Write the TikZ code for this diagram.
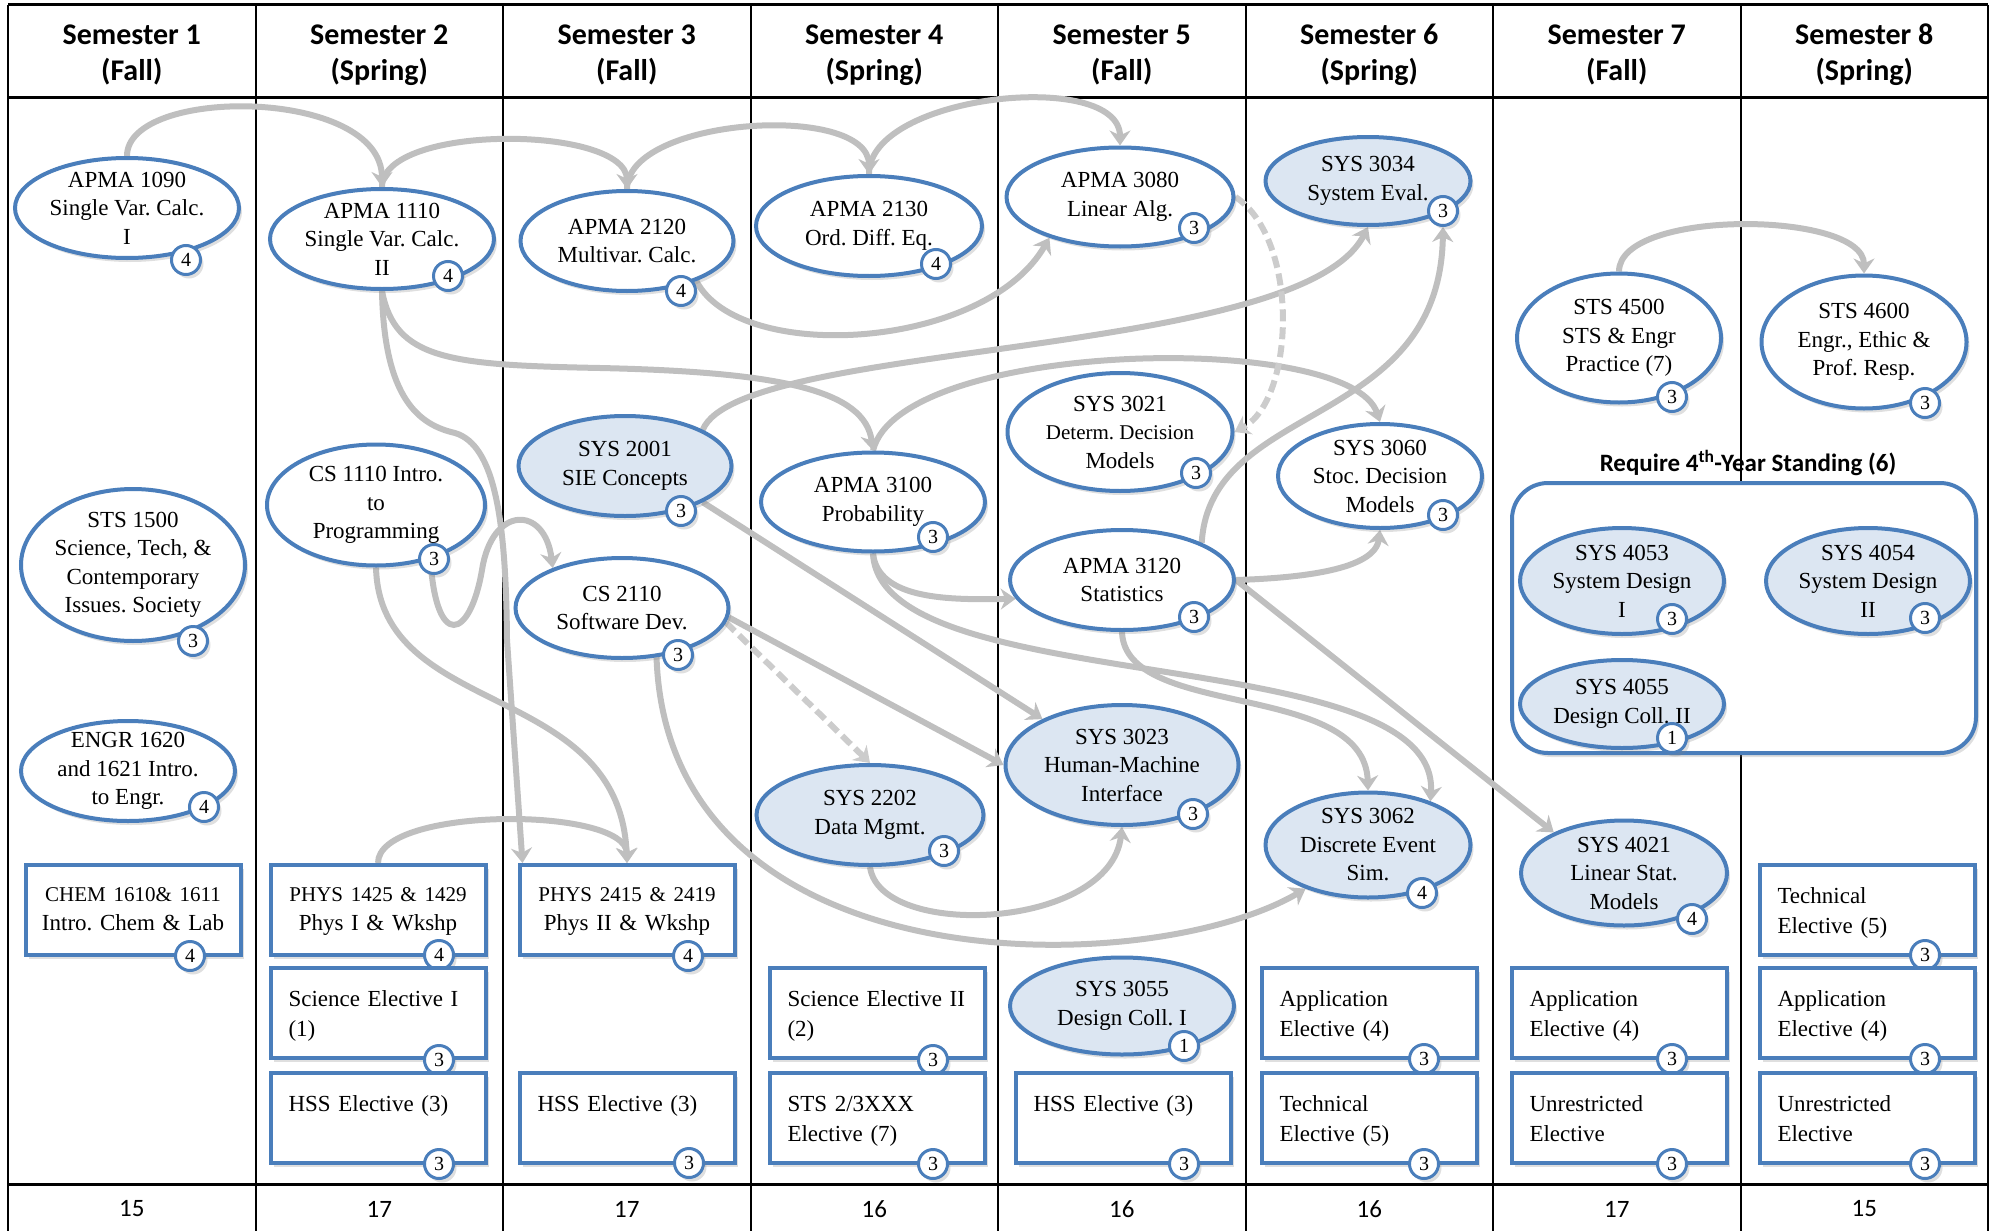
\documentclass[tikz,border=0pt]{standalone}
\usepackage{fontspec}
\setmainfont{Liberation Serif}
\newfontfamily\headfont{Carlito}
\usetikzlibrary{arrows.meta,shadows,shapes.geometric}
\definecolor{nodeblue}{RGB}{74,126,187}
\definecolor{nodefill}{RGB}{220,230,242}
\definecolor{linkgray}{RGB}{191,191,191}
\newcommand\codefont{\fontsize{21}{28}\selectfont}
\frenchspacing
\pgfdeclarelayer{bg}
\pgfsetlayers{bg,main}
\tikzset{
  shade/.style={drop shadow={opacity=.25, shadow xshift=3pt, shadow yshift=-4pt}},
  course/.style={ellipse, draw=nodeblue, line width=4pt, fill=white, inner sep=-5pt,
    minimum width=224pt, minimum height=100pt, align=center,
    font=\fontsize{23}{28.5}\selectfont, shade},
  sys/.style={course, fill=nodefill},
  slot/.style={rectangle, draw=nodeblue, line width=4pt, fill=white, text width=179pt,
    inner xsep=18pt, inner ysep=0pt, text height=38pt, text depth=52pt, align=left,
    font=\fontsize{23}{30}\selectfont, shade},
  lab/.style={slot, align=center, text width=203pt, inner xsep=6pt, text height=36pt,
    text depth=54pt, font=\fontsize{23}{29}\selectfont},
  credit/.style={circle, draw=nodeblue, line width=3pt, fill=white, minimum size=29pt,
    inner sep=0pt, font=\fontsize{20}{20}\selectfont, shade},
  group/.style={rectangle, rounded corners=36pt, draw=nodeblue, line width=4pt,
    fill=white, minimum width=464pt, minimum height=270pt, shade},
  head/.style={align=center, font=\headfont\bfseries\fontsize{30}{36}\selectfont},
  total/.style={font=\headfont\fontsize{25}{25}\selectfont},
  link/.style={color=linkgray, line width=6pt, -{Stealth[length=15pt,width=21pt]}},
  optlink/.style={dash pattern=on 12pt off 6pt, color=linkgray!80}
}
\begin{document}
\begin{tikzpicture}[x=1pt, y=-1pt]
  \useasboundingbox (0,0) rectangle (1996,1231);
  \begin{pgfonlayer}{bg}
    \draw[line width=3pt] (8,5) -- (1988,5);
    \draw[line width=3pt] (8,97) -- (1988,97);
    \draw[line width=3pt] (8,1184) -- (1988,1184);
    \draw[line width=2pt] (8,5) -- (8,1231);
    \draw[line width=2pt] (255.5,5) -- (255.5,1231);
    \draw[line width=2pt] (503,5) -- (503,1231);
    \draw[line width=2pt] (750.5,5) -- (750.5,1231);
    \draw[line width=2pt] (998,5) -- (998,1231);
    \draw[line width=2pt] (1245.5,5) -- (1245.5,1231);
    \draw[line width=2pt] (1493,5) -- (1493,1231);
    \draw[line width=2pt] (1740.5,5) -- (1740.5,1231);
    \draw[line width=2pt] (1988,5) -- (1988,1231);
  \end{pgfonlayer}

  \node[head] (sem1) at (131.75,55) {Semester 1\\(Fall)};
  \node[head] (sem2) at (379.25,55) {Semester 2\\(Spring)};
  \node[head] (sem3) at (626.75,55) {Semester 3\\(Fall)};
  \node[head] (sem4) at (874.25,55) {Semester 4\\(Spring)};
  \node[head] (sem5) at (1121.75,55) {Semester 5\\(Fall)};
  \node[head] (sem6) at (1369.25,55) {Semester 6\\(Spring)};
  \node[head] (sem7) at (1616.75,55) {Semester 7\\(Fall)};
  \node[head] (sem8) at (1864.25,55) {Semester 8\\(Spring)};

  \node[total] (tot1) at (131.75,1209) {15};
  \node[total] (tot2) at (379.25,1209) {17};
  \node[total] (tot3) at (626.75,1209) {17};
  \node[total] (tot4) at (874.25,1209) {16};
  \node[total] (tot5) at (1121.75,1209) {16};
  \node[total] (tot6) at (1369.25,1209) {16};
  \node[total] (tot7) at (1616.75,1209) {17};
  \node[total] (tot8) at (1864.25,1209) {15};

  \node[group] (standing) at (1744,618) {};
  \node[font=\headfont\bfseries\fontsize{25}{25}\selectfont] (standingtitle) at (1748,463)
    {Require 4\textsuperscript{th}-Year Standing (6)};

  \node[course] (apma1090) at (127,208) {APMA 1090\\Single Var. Calc.\\I};
  \node[credit] (c1090) at (186,260) {4};
  \node[course] (apma1110) at (382,239) {APMA 1110\\Single Var. Calc.\\II};
  \node[credit] (c1110) at (448,276) {4};
  \node[course, minimum width=213pt] (apma2120) at (627,241) {APMA 2120\\Multivar. Calc.};
  \node[credit] (c2120) at (681,291) {4};
  \node[course, minimum width=226pt] (apma2130) at (869,226) {APMA 2130\\Ord. Diff. Eq.};
  \node[credit] (c2130) at (936,264) {4};
  \node[course, minimum width=227pt, minimum height=99pt] (apma3080) at (1120,197) {APMA 3080\\Linear Alg.};
  \node[credit] (c3080) at (1194,228) {3};
  \node[sys, minimum width=205pt, minimum height=88pt] (sys3034) at (1368,181) {SYS 3034\\System Eval.};
  \node[credit] (c3034) at (1443,211) {3};
  \node[course, minimum width=204pt, minimum height=129pt] (sts4500) at (1619,338) {STS 4500\\STS \& Engr\\Practice (7)};
  \node[credit] (c4500) at (1672,397) {3};
  \node[course, minimum width=205pt, minimum height=133pt] (sts4600) at (1864,342) {STS 4600\\Engr., Ethic \&\\Prof. Resp.};
  \node[credit] (c4600) at (1925,403) {3};

  \node[course, minimum width=218pt, minimum height=121pt] (cs1110) at (376,505) {CS 1110 Intro.\\to\\Programming};
  \node[credit] (c1110b) at (434,559) {3};
  \node[sys, minimum width=213pt] (sys2001) at (625,466) {SYS 2001\\SIE Concepts};
  \node[credit] (c2001) at (681,511) {3};
  \node[course, minimum height=99pt] (apma3100) at (873,502) {APMA 3100\\Probability};
  \node[credit] (c3100) at (933,537) {3};
  \node[course, minimum width=225pt, minimum height=118pt] (sys3021) at (1120,432) {SYS 3021\\{\codefont Determ. Decision}\\Models};
  \node[credit] (c3021) at (1196,473) {3};
  \node[course, minimum width=204pt, minimum height=104pt] (sys3060) at (1380,476) {SYS 3060\\Stoc. Decision\\Models};
  \node[credit] (c3060) at (1443,515) {3};
  \node[course] (apma3120) at (1122,580) {APMA 3120\\Statistics};
  \node[credit] (c3120) at (1194,617) {3};
  \node[course, minimum height=152pt] (sts1500) at (133,565) {STS 1500\\Science, Tech, \&\\Contemporary\\Issues. Society};
  \node[credit] (c1500) at (193,641) {3};
  \node[course, minimum width=213pt] (cs2110) at (622,608) {CS 2110\\Software Dev.};
  \node[credit] (c2110) at (678,655) {3};

  \node[sys, minimum width=204pt, minimum height=106pt] (sys4053) at (1622,581) {SYS 4053\\System Design\\I};
  \node[credit] (c4053) at (1672,619) {3};
  \node[sys, minimum width=204pt, minimum height=106pt] (sys4054) at (1868,581) {SYS 4054\\System Design\\II};
  \node[credit] (c4054) at (1925,618) {3};
  \node[sys, minimum width=204pt, minimum height=88pt] (sys4055) at (1622,704) {SYS 4055\\Design Coll. II};
  \node[credit] (c4055) at (1672,738) {1};

  \node[course, minimum width=214pt] (engr1620) at (128,771) {ENGR 1620\\and 1621 Intro.\\to Engr.};
  \node[credit] (c1620) at (204,807) {4};
  \node[sys, minimum width=227pt] (sys2202) at (870,815) {SYS 2202\\Data Mgmt.};
  \node[credit] (c2202) at (944,851) {3};
  \node[sys, minimum width=233pt, minimum height=120pt] (sys3023) at (1122,765) {SYS 3023\\Human-Machine\\Interface};
  \node[credit] (c3023) at (1193,814) {3};
  \node[sys, minimum width=205pt, minimum height=105pt] (sys3062) at (1368,845) {SYS 3062\\Discrete Event\\Sim.};
  \node[credit] (c3062) at (1422,893) {4};
  \node[sys, minimum width=206pt, minimum height=105pt] (sys4021) at (1624,873) {SYS 4021\\Linear Stat.\\Models};
  \node[credit] (c4021) at (1692,919) {4};
  \node[sys, minimum height=97pt] (sys3055) at (1122,1006) {SYS 3055\\Design Coll. I};
  \node[credit] (c3055) at (1184,1046) {1};

  \node[lab] (chem) at (133,910) {{\codefont CHEM 1610\& 1611}\\Intro. Chem \& Lab};
  \node[credit] (cchem) at (190,956) {4};
  \node[lab] (phys1425) at (378,910) {{\codefont PHYS 1425 \& 1429}\\Phys I \& Wkshp};
  \node[credit] (c1425) at (439,955) {4};
  \node[lab] (phys2415) at (627,910) {{\codefont PHYS 2415 \& 2419}\\Phys II \& Wkshp};
  \node[credit] (c2415) at (688,956) {4};
  \node[slot] (tech8) at (1867,910) {Technical\\Elective (5)};
  \node[credit] (ctech8) at (1925,955) {3};

  \node[slot] (sci1) at (378,1013) {Science Elective I\\(1)};
  \node[credit] (csci1) at (439,1060) {3};
  \node[slot] (sci2) at (877,1013) {Science Elective II\\(2)};
  \node[credit] (csci2) at (933,1060) {3};
  \node[slot] (app6) at (1369,1013) {Application\\Elective (4)};
  \node[credit] (capp6) at (1424,1059) {3};
  \node[slot] (app7) at (1619,1013) {Application\\Elective (4)};
  \node[credit] (capp7) at (1672,1059) {3};
  \node[slot] (app8) at (1867,1013) {Application\\Elective (4)};
  \node[credit] (capp8) at (1925,1059) {3};

  \node[slot] (hss2) at (378,1118) {HSS Elective (3)};
  \node[credit] (chss2) at (439,1164) {3};
  \node[slot] (hss3) at (627,1118) {HSS Elective (3)};
  \node[credit] (chss3) at (689,1163) {3};
  \node[slot] (sts23) at (877,1118) {STS 2/3XXX\\Elective (7)};
  \node[credit] (csts23) at (933,1164) {3};
  \node[slot] (hss5) at (1123,1118) {HSS Elective (3)};
  \node[credit] (chss5) at (1184,1164) {3};
  \node[slot] (tech6) at (1369,1118) {Technical\\Elective (5)};
  \node[credit] (ctech6) at (1424,1164) {3};
  \node[slot] (unr7) at (1619,1118) {Unrestricted\\Elective};
  \node[credit] (cunr7) at (1672,1164) {3};
  \node[slot] (unr8) at (1867,1118) {Unrestricted\\Elective};
  \node[credit] (cunr8) at (1925,1164) {3};

  \begin{pgfonlayer}{bg}
  \begin{scope}[link]
    \draw (apma1090.north) .. controls +(0,-70) and +(0,-100) .. (apma1110.north);
    \draw (apma1110.north) .. controls +(0,-64) and +(0,-64) .. (apma2120.north);
    \draw (apma2120.north) .. controls +(0,-72) and +(0,-72) .. (apma2130.north);
    \draw (apma2130.north) .. controls +(0,-80) and +(0,-77) .. (apma3080.north);
    \draw (apma2120.-30) .. controls (740,365) and (985,350) .. (apma3080.-150);
    \draw (apma1110.south) .. controls (395,360) and (450,365) .. (600,368)
      .. controls (780,372) and (865,390) .. (apma3100.north);
    \draw (apma1110.south) .. controls (384,400) and (420,425) .. (455,433)
      .. controls (495,445) and (506,520) .. (507,640) -- ([xshift=5pt]phys2415.north west);
    \draw (cs1110.-45) .. controls (436,650) and (470,640) .. (482,570)
      .. controls (492,505) and (545,505) .. (cs2110.150);
    \draw (cs1110.south) .. controls (380,720) and (620,680) .. (phys2415.north);
    \draw (phys1425.north) .. controls +(0,-57) and +(0,-57) .. (phys2415.north);
    \draw (sys2001.25) .. controls (740,340) and (1300,360) .. (sys3034.south);
    \draw (apma3100.north) .. controls (900,340) and (1350,330) .. (sys3060.north);
    \draw (apma3120.25) .. controls (1210,400) and (1440,430) .. (c3034.south);
    \draw[optlink] (apma3080.east) .. controls (1300,240) and (1295,400) .. (sys3021.east);
    \draw (sys2001.-25) -- (sys3023.150);
    \draw (cs2110.-5) -- (sys3023.west);
    \draw[optlink] (cs2110.-8) -- (sys2202.north);
    \draw (apma3100.south) .. controls (878,600) and (950,600) .. (apma3120.190);
    \draw (apma3100.south) .. controls (880,700) and (1440,640) .. (sys3062.35);
    \draw (apma3120.south) .. controls (1125,720) and (1365,680) .. (sys3062.north);
    \draw (apma3120.east) .. controls (1300,578) and (1375,570) .. (sys3060.south);
    \draw (apma3120.east) -- (sys4021.150);
    \draw (sys2202.south) .. controls (880,940) and (1110,930) .. (sys3023.south);
    \draw (cs2110.-55) .. controls (668,990) and (1150,980) .. (sys3062.-145);
    \draw (sts4500.north) .. controls +(0,-63) and +(0,-63) .. (sts4600.north);
  \end{scope}
  \end{pgfonlayer}
\end{tikzpicture}
\end{document}
